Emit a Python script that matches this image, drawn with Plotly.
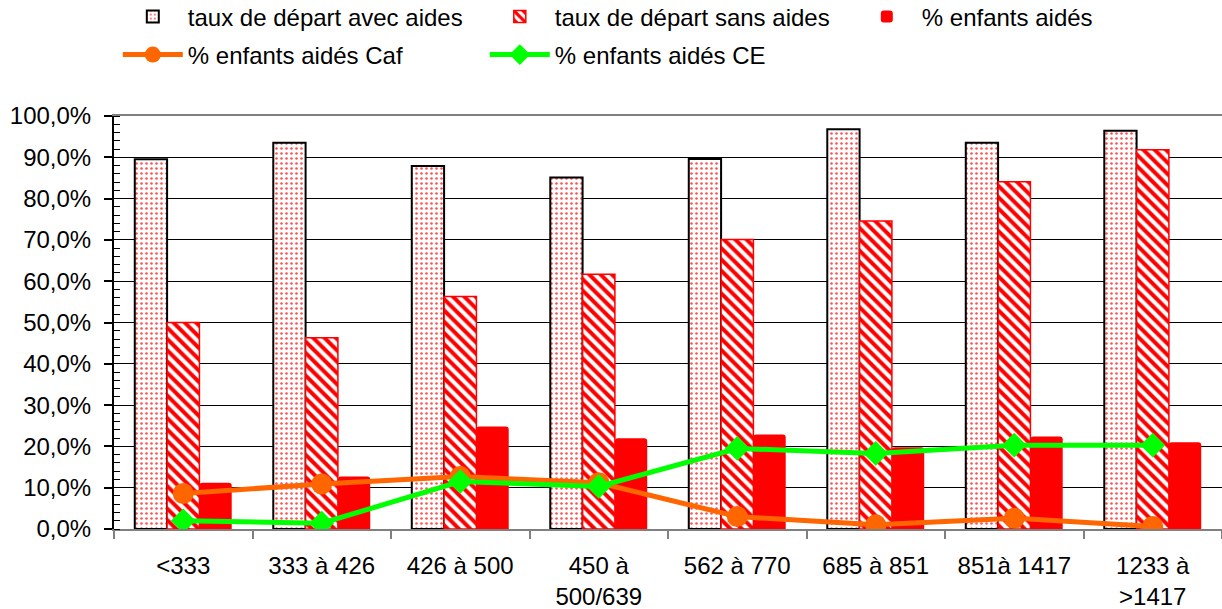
import plotly.graph_objects as go

# Revenue brackets (x categories)
categories = [
    "&lt;333", "333 à 426", "426 à 500", "450 à<br>500/639",
    "562 à 770", "685 à 851", "851à 1417", "1233 à<br>&gt;1417",
]

# Departure rates and share of children receiving help (fractions)
taux_avec_aides = [0.895, 0.935, 0.879, 0.851, 0.896, 0.968, 0.935, 0.964]
taux_sans_aides = [0.500, 0.463, 0.563, 0.617, 0.701, 0.746, 0.841, 0.918]
pct_enfants_aides = [0.112, 0.127, 0.248, 0.220, 0.229, 0.198, 0.224, 0.210]
pct_aides_caf = [0.086, 0.109, 0.127, 0.112, 0.030, 0.010, 0.026, 0.006]
pct_aides_ce = [0.020, 0.014, 0.115, 0.103, 0.195, 0.183, 0.203, 0.203]

FONT = "Liberation Sans, Arial, sans-serif"

fig = go.Figure()

fig.add_trace(go.Bar(
    name="taux de départ avec aides", x=categories, y=taux_avec_aides,
    marker=dict(
        color="white",
        line=dict(color="black", width=2),
        pattern=dict(shape=".", fgcolor="#FF5050", bgcolor="white",
                     size=5, solidity=0.2, fillmode="replace"),
    ),
    legend="legend",
))
fig.add_trace(go.Bar(
    name="taux de départ sans aides", x=categories, y=taux_sans_aides,
    marker=dict(
        color="white",
        line=dict(color="#FF0000", width=1.5),
        pattern=dict(shape="\\", fgcolor="#FF0000", bgcolor="white",
                     size=8, solidity=0.5, fillmode="replace"),
    ),
    legend="legend",
))
fig.add_trace(go.Bar(
    name="% enfants aidés", x=categories, y=pct_enfants_aides,
    marker=dict(color="#FF0000", line=dict(width=0), cornerradius=3),
    legend="legend",
))
fig.add_trace(go.Scatter(
    name="% enfants aidés Caf", x=categories, y=pct_aides_caf,
    mode="lines+markers",
    line=dict(color="#FF6600", width=5),
    marker=dict(symbol="circle", size=21, color="#FF6600"),
    legend="legend2",
))
fig.add_trace(go.Scatter(
    name="% enfants aidés CE", x=categories, y=pct_aides_ce,
    mode="lines+markers",
    line=dict(color="#00FF00", width=5),
    marker=dict(symbol="diamond", size=19, color="#00FF00"),
    legend="legend2",
))

legend_common = dict(
    orientation="h", xref="container", yref="container",
    xanchor="left", yanchor="middle",
    font=dict(family=FONT, size=24, color="black"),
    entrywidth=292, entrywidthmode="pixels", itemwidth=60,
    bgcolor="rgba(0,0,0,0)", traceorder="normal",
)

fig.update_layout(
    width=1222, height=609,
    margin=dict(l=114, r=0, t=116, b=80),
    paper_bgcolor="white", plot_bgcolor="white",
    separators=", ",
    barmode="group", bargap=0.3, bargroupgap=0,
    font=dict(family=FONT, size=24, color="black"),
    legend=dict(x=0.0964, y=1 - 17 / 609, **legend_common),
    legend2=dict(x=0.0964, y=1 - 55 / 609, **legend_common),
    xaxis=dict(
        type="category",
        showline=True, linecolor="#808080", linewidth=2, mirror=True,
        ticks="outside", tickson="boundaries", ticklen=8,
        tickcolor="#808080", tickwidth=1.5,
        showgrid=False,
        tickfont=dict(family=FONT, size=24, color="black"),
        ticklabelstandoff=14,
    ),
    yaxis=dict(
        range=[0, 1], dtick=0.1, tickformat=".1%",
        showline=True, linecolor="black", linewidth=2,
        ticks="outside", ticklen=8, tickcolor="black", tickwidth=1.5,
        showgrid=True, gridcolor="black", gridwidth=1,
        zeroline=False,
        minor=dict(ticks="inside", dtick=0.02, ticklen=6,
                   tickcolor="black", tickwidth=1, showgrid=False),
        tickfont=dict(family=FONT, size=24, color="black"),
        ticklabelstandoff=8,
    ),
    showlegend=True,
)

fig.write_html("out.html")
